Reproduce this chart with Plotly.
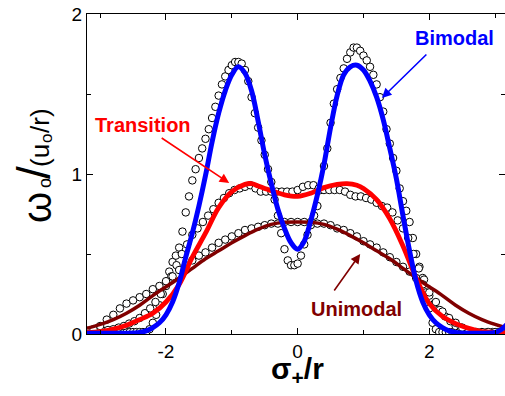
import numpy as np
import plotly.graph_objects as go

# ---------------- data ----------------
# open-circle data, "bimodal" set (x step 0.05 from -3.2)
bim_x0, bim_dx = -3.2, 0.05
bim_y = [0.012]*19 + [
    0.03, 0.07, 0.12, 0.18, 0.25, 0.32, 0.39, 0.45, 0.49, 0.54,
    0.64, 0.76, 0.86, 0.96, 1.03, 1.10, 1.16, 1.22, 1.28, 1.35,
    1.42, 1.49, 1.56, 1.61, 1.65, 1.68, 1.70, 1.70, 1.69, 1.65,
    1.58, 1.48, 1.38, 1.29, 1.21, 1.12, 1.03, 0.95, 0.84, 0.74,
    0.63, 0.53, 0.46, 0.43, 0.43, 0.44, 0.49, 0.56, 0.62, 0.68,
    0.74, 0.80, 0.90, 1.05, 1.16, 1.32, 1.44, 1.53, 1.60, 1.66,
    1.72, 1.76, 1.79, 1.79, 1.77, 1.74, 1.71, 1.67, 1.62, 1.56,
    1.48, 1.39, 1.28, 1.19, 1.10, 1.02, 0.91, 0.83, 0.77, 0.70,
    0.60, 0.50, 0.42, 0.35, 0.26, 0.16, 0.07, 0.03] + [0.012]*7

# open-circle data, "transition" set (x step 0.08 from -3.2)
tra_x0, tra_dx = -3.2, 0.08
tra_y = [
    0.012, 0.012, 0.015, 0.02, 0.025, 0.03, 0.04, 0.05, 0.065, 0.08,
    0.10, 0.13, 0.16, 0.20, 0.25, 0.30, 0.36, 0.43, 0.50, 0.56,
    0.62, 0.66, 0.70, 0.74, 0.78, 0.82, 0.85, 0.88, 0.90, 0.91,
    0.92, 0.93, 0.91, 0.89, 0.89, 0.89, 0.89, 0.89, 0.89, 0.89,
    0.90, 0.92, 0.93, 0.93, 0.91, 0.90, 0.90, 0.90, 0.90, 0.89,
    0.87, 0.86, 0.86, 0.85, 0.84, 0.82, 0.80, 0.79, 0.76, 0.71,
    0.66, 0.60, 0.50, 0.41, 0.34, 0.24, 0.19, 0.15, 0.11, 0.08,
    0.05, 0.04, 0.015, 0.012, 0.012, 0.012, 0.012, 0.012, 0.012, 0.012,
    0.012]

# open-circle data, "unimodal" set (x step 0.1 from -3.2)
uni_x0, uni_dx = -3.2, 0.1
uni_y = [
    0.02, 0.03, 0.05, 0.09, 0.12, 0.16, 0.19, 0.21, 0.23, 0.25,
    0.28, 0.30, 0.33, 0.36, 0.40, 0.43, 0.46, 0.49, 0.51, 0.54,
    0.57, 0.59, 0.61, 0.63, 0.65, 0.66, 0.67, 0.68, 0.69, 0.69,
    0.70, 0.70, 0.70, 0.70, 0.70, 0.69, 0.69, 0.68, 0.66, 0.65,
    0.63, 0.61, 0.58, 0.56, 0.54, 0.51, 0.48, 0.45, 0.42, 0.39,
    0.35, 0.31, 0.26, 0.20, 0.14, 0.10, 0.07, 0.04, 0.02, 0.012,
    0.012, 0.012, 0.012, 0.012, 0.012]

# fitted curves
blue_x = [-3.2, -3.0, -2.8, -2.6, -2.4, -2.3, -2.2, -2.1, -2.0, -1.9, -1.8, -1.7,
          -1.6, -1.5, -1.4, -1.3, -1.2, -1.1, -1.0, -0.9, -0.8, -0.7, -0.6, -0.5,
          -0.4, -0.3, -0.2, -0.1, 0.0, 0.1, 0.2, 0.3, 0.4, 0.5, 0.6, 0.7, 0.8, 0.9,
          1.0, 1.1, 1.2, 1.3, 1.4, 1.5, 1.6, 1.7, 1.8, 1.9, 2.0, 2.1, 2.2, 2.3, 2.4,
          2.6, 2.8, 3.0, 3.1, 3.2]
blue_y = [0.005, 0.005, 0.005, 0.005, 0.01, 0.02, 0.04, 0.07, 0.12, 0.20, 0.32, 0.48,
          0.63, 0.80, 0.99, 1.20, 1.38, 1.52, 1.62, 1.67, 1.63, 1.52, 1.33, 1.12,
          0.94, 0.78, 0.66, 0.57, 0.53, 0.58, 0.71, 0.87, 1.06, 1.29, 1.49, 1.62, 1.67, 1.68,
          1.65, 1.58, 1.48, 1.34, 1.16, 0.97, 0.74, 0.52, 0.33, 0.20, 0.12, 0.07, 0.04, 0.02, 0.01,
          0.005, 0.005, 0.01, 0.03, 0.07]

red_x = [-3.2, -3.0, -2.8, -2.6, -2.4, -2.2, -2.0, -1.8, -1.6, -1.4, -1.2, -1.0,
         -0.8, -0.7, -0.6, -0.4, -0.2, 0.0, 0.2, 0.4, 0.6, 0.75, 0.9, 1.0, 1.2,
         1.4, 1.6, 1.8, 2.0, 2.2, 2.4, 2.6, 2.8, 3.0, 3.2]
red_y = [0.01, 0.015, 0.03, 0.055, 0.09, 0.13, 0.20, 0.31, 0.48, 0.63, 0.79, 0.89,
         0.935, 0.94, 0.925, 0.895, 0.87, 0.86, 0.88, 0.915, 0.935, 0.94, 0.93, 0.91, 0.84,
         0.72, 0.55, 0.35, 0.19, 0.11, 0.065, 0.035, 0.015, 0.01, 0.005]

dred_x = [-3.2, -3.0, -2.8, -2.6, -2.4, -2.2, -2.0, -1.8, -1.6, -1.4, -1.2, -1.0,
          -0.8, -0.6, -0.4, -0.2, 0.0, 0.2, 0.4, 0.6, 0.8, 1.0, 1.2, 1.4, 1.6,
          1.8, 2.0, 2.2, 2.4, 2.6, 2.8, 3.0, 3.2]
dred_y = [0.035, 0.06, 0.09, 0.13, 0.18, 0.24, 0.295, 0.35, 0.41, 0.47, 0.52, 0.57,
          0.615, 0.655, 0.685, 0.698, 0.70, 0.698, 0.685, 0.655, 0.615, 0.57, 0.52, 0.47, 0.41,
          0.35, 0.295, 0.24, 0.18, 0.13, 0.09, 0.06, 0.035]

x_ticks = [-2, 0, 2]
y_ticks = [0, 1, 2]

# ---------------- figure ----------------
def grid(x0, dx, n):
    return np.round(x0 + dx*np.arange(n), 4)

fig = go.Figure()
marker = dict(symbol="circle", size=7.5, color="white",
              line=dict(color="black", width=1))
for x0, dx, ys in [(bim_x0, bim_dx, bim_y), (tra_x0, tra_dx, tra_y), (uni_x0, uni_dx, uni_y)]:
    fig.add_trace(go.Scatter(x=grid(x0, dx, len(ys)), y=ys, mode="markers",
                             marker=marker, showlegend=False))

fig.add_trace(go.Scatter(x=dred_x, y=dred_y, mode="lines", line=dict(color="#800000", width=3.5, shape="spline"), showlegend=False))
fig.add_trace(go.Scatter(x=red_x, y=red_y, mode="lines", line=dict(color="#FF0000", width=4.8, shape="spline"), showlegend=False))
fig.add_trace(go.Scatter(x=blue_x, y=blue_y, mode="lines", line=dict(color="#0000FF", width=5, shape="spline"), showlegend=False))

axis_common = dict(showgrid=False, zeroline=False, showline=True, linecolor="black",
                   linewidth=1.3, mirror="ticks", ticks="inside", ticklen=6,
                   tickwidth=1.3, tickcolor="black",
                   tickfont=dict(family="Arial", size=19, color="black"))
fig.update_xaxes(range=[-3.2, 3.15], tickvals=x_ticks, ticktext=[str(v) for v in x_ticks],
                 minor=dict(dtick=1, tick0=0, ticks="inside", ticklen=4, tickcolor="black", tickwidth=1.3),
                 **axis_common)
fig.update_yaxes(range=[0, 2], tickvals=y_ticks, ticktext=[str(v) for v in y_ticks],
                 minor=dict(dtick=0.5, tick0=0, ticks="inside", ticklen=4, tickcolor="black", tickwidth=1.3),
                 **axis_common)

ann = []
# labels
ann.append(dict(x=2.38, y=1.85, xref="x", yref="y", text="<b>Bimodal</b>", showarrow=False,
                font=dict(family="Arial", size=20, color="#0000FF")))
ann.append(dict(x=-2.35, y=1.306, xref="x", yref="y", text="<b>Transition</b>", showarrow=False,
                font=dict(family="Arial", size=20, color="#FF0000")))
ann.append(dict(x=0.89, y=0.156, xref="x", yref="y", text="<b>Unimodal</b>", showarrow=False,
                font=dict(family="Arial", size=20, color="#800000")))
# arrows
ann.append(dict(x=1.28, y=1.475, xref="x", yref="y", ax=46, ay=-45, text="", showarrow=True,
                arrowhead=2, arrowsize=1.2, arrowwidth=1.6, arrowcolor="#0000FF"))
ann.append(dict(x=-1.04, y=0.944, xref="x", yref="y", ax=-69, ay=-46, text="", showarrow=True,
                arrowhead=2, arrowsize=1.2, arrowwidth=1.6, arrowcolor="#FF0000"))
ann.append(dict(x=0.95, y=0.5, xref="x", yref="y", ax=-27, ay=38, text="", showarrow=True,
                arrowhead=2, arrowsize=1.2, arrowwidth=1.6, arrowcolor="#800000"))

# y title, built from rotated pieces (pixel centre -> paper coords)
def px2paper(px, py):
    return (px - 87) / 418, (334 - py) / 320

ytitle_parts = [("ω", 40, 37, 208), ("o", 18, 45, 183), ("/", 46, 34, 173),
                ("(u", 26, 40, 156), ("o", 17, 46, 139), ("/r)", 26, 40, 121)]
for txt, size, cx, cy in ytitle_parts:
    xp, yp = px2paper(cx, cy)
    ann.append(dict(x=xp, y=yp, xref="paper", yref="paper", textangle=-90, showarrow=False,
                    xanchor="center", yanchor="middle", text=txt,
                    font=dict(family="Arial", size=size, color="black")))
# x title
xp, yp = px2paper(297, 370)
ann.append(dict(x=xp, y=yp, xref="paper", yref="paper", showarrow=False,
                xanchor="center", yanchor="middle",
                text="<b>σ<sub>+</sub>/r</b>",
                font=dict(family="Arial", size=30, color="black")))

fig.update_layout(width=505, height=396, margin=dict(l=87, r=0, t=14, b=62),
                  paper_bgcolor="white", plot_bgcolor="white", annotations=ann,
                  showlegend=False)
fig.write_html("out.html")
